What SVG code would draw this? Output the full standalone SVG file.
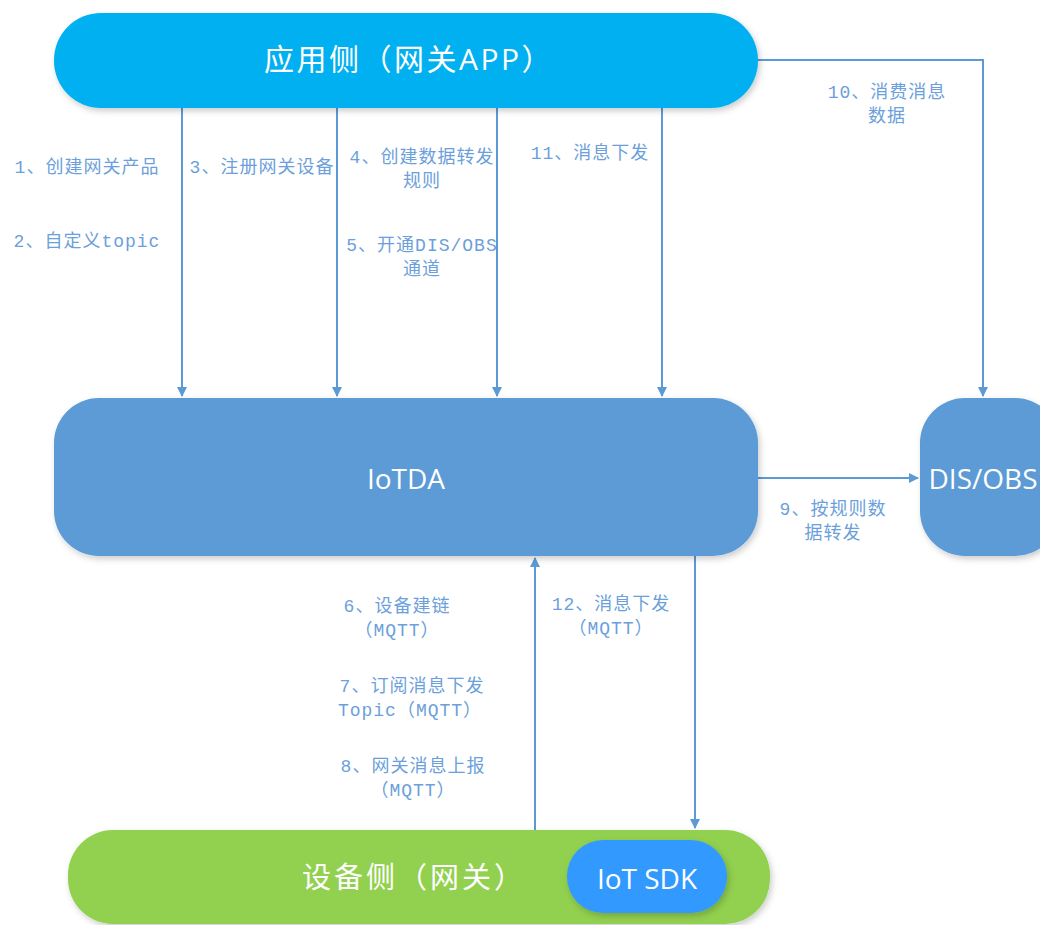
<svg xmlns="http://www.w3.org/2000/svg" width="1040" height="925" viewBox="0 0 1040 925">
<defs>
<filter id="sh" x="-10%" y="-20%" width="120%" height="150%"><feDropShadow dx="2" dy="3" stdDeviation="3" flood-color="#000" flood-opacity="0.2"/></filter>
<marker id="ah" markerWidth="10" markerHeight="10" refX="9" refY="5" orient="auto" markerUnits="userSpaceOnUse"><path d="M0,0 L10,5 L0,10 Z" fill="#5B9BD5"/></marker>
<style>
.c{fill:none;stroke:#5B9BD5;stroke-width:2}
.l{font-family:"Liberation Mono","Noto Sans CJK SC",monospace;font-size:18px;letter-spacing:1px;fill:#6C9FDB;text-anchor:middle}
.t{font-family:"Open Sans","Noto Sans CJK SC",sans-serif;fill:#fff;text-anchor:middle;dominant-baseline:central}
</style>
</defs>
<rect width="1040" height="925" fill="#fff"/>
<g id="connectors">
<path class="c" d="M182,108 V396" marker-end="url(#ah)"/>
<path class="c" d="M337,108 V396" marker-end="url(#ah)"/>
<path class="c" d="M497,108 V396" marker-end="url(#ah)"/>
<path class="c" d="M662,108 V396" marker-end="url(#ah)"/>
<path class="c" d="M750,60 H983 V396" marker-end="url(#ah)"/>
<path class="c" d="M758,478 H918" marker-end="url(#ah)"/>
<path class="c" d="M535,830 V558" marker-end="url(#ah)"/>
<path class="c" d="M695,556 V828" marker-end="url(#ah)"/>
</g>
<g id="labels">
<text class="l" x="87" y="173">1、创建网关产品</text>
<text class="l" x="87" y="247">2、自定义topic</text>
<text class="l" x="262" y="173">3、注册网关设备</text>
<text class="l" x="422" y="163">4、创建数据转发</text>
<text class="l" x="422" y="187">规则</text>
<text class="l" x="422" y="251">5、开通DIS/OBS</text>
<text class="l" x="422" y="275">通道</text>
<text class="l" x="590" y="159">11、消息下发</text>
<text class="l" x="887" y="98">10、消费消息</text>
<text class="l" x="887" y="122">数据</text>
<text class="l" x="833" y="515">9、按规则数</text>
<text class="l" x="833" y="539">据转发</text>
<text class="l" x="397" y="612">6、设备建链</text>
<text class="l" x="397" y="636">（MQTT）</text>
<text class="l" x="412" y="692">7、订阅消息下发</text>
<text class="l" x="410" y="716">Topic（MQTT）</text>
<text class="l" x="413" y="772">8、网关消息上报</text>
<text class="l" x="413" y="796">（MQTT）</text>
<text class="l" x="611" y="610">12、消息下发</text>
<text class="l" x="611" y="634">（MQTT）</text>
</g>
<g id="app">
<rect x="54" y="13" width="704" height="95" rx="47" fill="#00B0F0" filter="url(#sh)"/>
<text class="t" x="409" y="58" font-size="30" letter-spacing="2.5">应用侧（网关APP）</text>
</g>
<g id="iotda">
<rect x="54" y="398" width="704" height="158" rx="45" fill="#5B9BD5" filter="url(#sh)"/>
<text class="t" x="406" y="478" font-size="28">IoTDA</text>
</g>
<g id="disobs">
<rect x="920" y="398" width="140" height="158" rx="45" fill="#5B9BD5" filter="url(#sh)"/>
<text class="t" x="983" y="478" font-size="28">DIS/OBS</text>
</g>
<g id="device">
<rect x="68" y="830" width="702" height="94" rx="45" fill="#92D050" filter="url(#sh)"/>
<text class="t" x="414" y="876" font-size="29" letter-spacing="3">设备侧（网关）</text>
</g>
<g id="sdk">
<rect x="567" y="840" width="160" height="73" rx="36" fill="#3399FF" filter="url(#sh)"/>
<text class="t" x="647" y="878" font-size="28">IoT SDK</text>
</g>
</svg>
